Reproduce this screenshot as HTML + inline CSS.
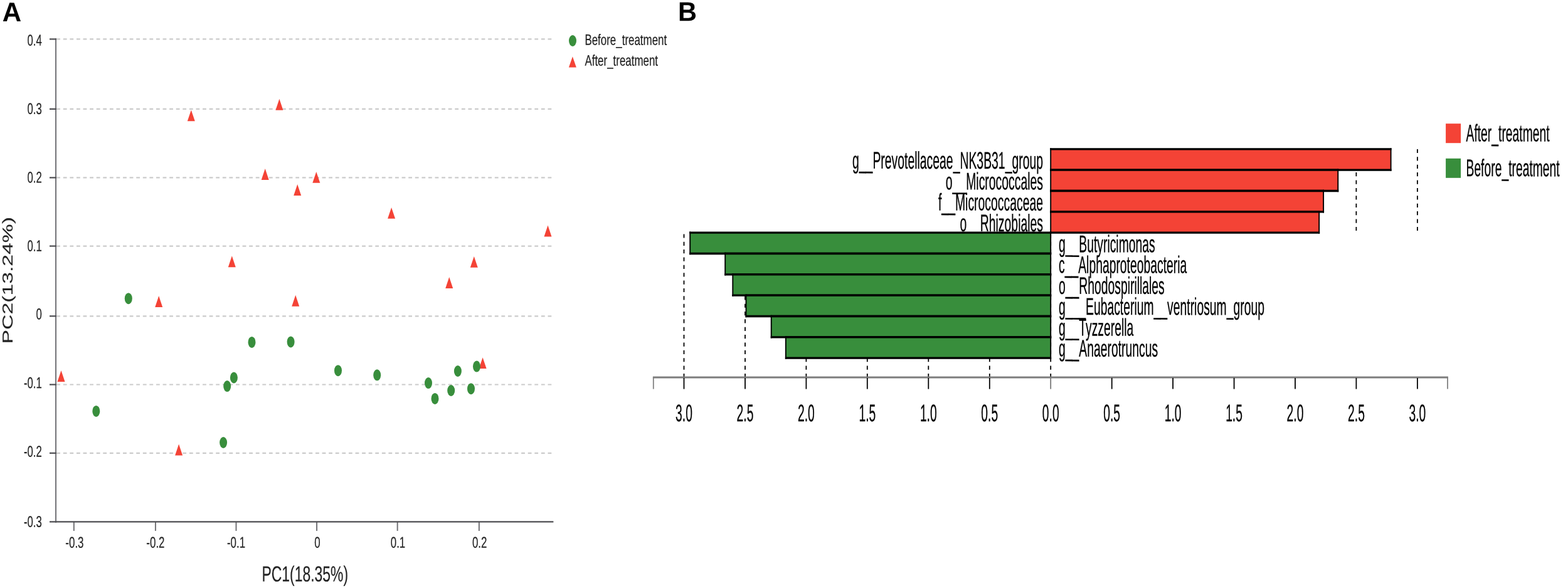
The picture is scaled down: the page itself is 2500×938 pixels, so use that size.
<!DOCTYPE html>
<html lang="en">
<head>
<meta charset="utf-8">
<title>Figure: PCoA and LEfSe LDA scores</title>
<style>
html,body{margin:0;padding:0;background:#fff;}
body{width:2500px;height:938px;overflow:hidden;}
svg{display:block;}
svg text{font-family:"Liberation Sans",Arial,Helvetica,sans-serif;text-rendering:geometricPrecision;}
</style>
</head>
<body>
<svg width="2500" height="938" viewBox="0 0 2500 938">
<rect x="0" y="0" width="2500" height="938" fill="#ffffff"/>
<g id="panelA">
<line x1="90.2" y1="62.4" x2="881" y2="62.4" stroke="#cbcbcb" stroke-width="2.2" stroke-dasharray="5.8 4.785"/>
<line x1="90.2" y1="173.9" x2="881" y2="173.9" stroke="#cbcbcb" stroke-width="2.2" stroke-dasharray="5.8 4.785"/>
<line x1="90.2" y1="283.4" x2="881" y2="283.4" stroke="#cbcbcb" stroke-width="2.2" stroke-dasharray="5.8 4.785"/>
<line x1="90.2" y1="392.55" x2="881" y2="392.55" stroke="#cbcbcb" stroke-width="2.2" stroke-dasharray="5.8 4.785"/>
<line x1="90.2" y1="504.3" x2="881" y2="504.3" stroke="#cbcbcb" stroke-width="2.2" stroke-dasharray="5.8 4.785"/>
<line x1="90.2" y1="613.5" x2="881" y2="613.5" stroke="#cbcbcb" stroke-width="2.2" stroke-dasharray="5.8 4.785"/>
<line x1="90.2" y1="722.8" x2="881" y2="722.8" stroke="#cbcbcb" stroke-width="2.2" stroke-dasharray="5.8 4.785"/>
<line x1="89.05" y1="61.3" x2="89.05" y2="833.7" stroke="#727276" stroke-width="2"/>
<line x1="117.83" y1="832.5" x2="117.83" y2="846.9" stroke="#727276" stroke-width="2"/>
<line x1="247.93" y1="832.5" x2="247.93" y2="846.9" stroke="#727276" stroke-width="2"/>
<line x1="376.49" y1="832.5" x2="376.49" y2="846.9" stroke="#727276" stroke-width="2"/>
<line x1="505.06" y1="832.5" x2="505.06" y2="846.9" stroke="#727276" stroke-width="2"/>
<line x1="633.68" y1="832.5" x2="633.68" y2="846.9" stroke="#727276" stroke-width="2"/>
<line x1="763.86" y1="832.5" x2="763.86" y2="846.9" stroke="#727276" stroke-width="2"/>
<line x1="79" y1="62.4" x2="89.85" y2="62.4" stroke="#4c4c50" stroke-width="2.2"/>
<line x1="79" y1="173.9" x2="89.85" y2="173.9" stroke="#4c4c50" stroke-width="2.2"/>
<line x1="79" y1="283.4" x2="89.85" y2="283.4" stroke="#4c4c50" stroke-width="2.2"/>
<line x1="79" y1="392.55" x2="89.85" y2="392.55" stroke="#4c4c50" stroke-width="2.2"/>
<line x1="79" y1="504.3" x2="89.85" y2="504.3" stroke="#4c4c50" stroke-width="2.2"/>
<line x1="79" y1="613.5" x2="89.85" y2="613.5" stroke="#4c4c50" stroke-width="2.2"/>
<line x1="79" y1="722.8" x2="89.85" y2="722.8" stroke="#4c4c50" stroke-width="2.2"/>
<line x1="79" y1="832.4" x2="882.4" y2="832.4" stroke="#4c4c50" stroke-width="2.4"/>
<text transform="matrix(0.6650 0.0006 0 1 66.80 72.66)" font-size="25.2" text-anchor="end" fill="#222222" font-weight="normal" stroke="#222222" stroke-width="0.2" vector-effect="non-scaling-stroke" stroke-linejoin="round">0.4</text>
<text transform="matrix(0.6650 0.0006 0 1 66.80 182.11)" font-size="25.2" text-anchor="end" fill="#222222" font-weight="normal" stroke="#222222" stroke-width="0.2" vector-effect="non-scaling-stroke" stroke-linejoin="round">0.3</text>
<text transform="matrix(0.6650 0.0006 0 1 66.80 291.46)" font-size="25.2" text-anchor="end" fill="#222222" font-weight="normal" stroke="#222222" stroke-width="0.2" vector-effect="non-scaling-stroke" stroke-linejoin="round">0.2</text>
<text transform="matrix(0.6650 0.0006 0 1 66.80 400.66)" font-size="25.2" text-anchor="end" fill="#222222" font-weight="normal" stroke="#222222" stroke-width="0.2" vector-effect="non-scaling-stroke" stroke-linejoin="round">0.1</text>
<text transform="matrix(0.6650 0.0006 0 1 66.80 509.55)" font-size="25.2" text-anchor="end" fill="#222222" font-weight="normal" stroke="#222222" stroke-width="0.2" vector-effect="non-scaling-stroke" stroke-linejoin="round">0</text>
<text transform="matrix(0.6650 0.0006 0 1 66.80 619.27)" font-size="25.2" text-anchor="end" fill="#222222" font-weight="normal" stroke="#222222" stroke-width="0.2" vector-effect="non-scaling-stroke" stroke-linejoin="round">-0.1</text>
<text transform="matrix(0.6650 0.0006 0 1 66.80 728.72)" font-size="25.2" text-anchor="end" fill="#222222" font-weight="normal" stroke="#222222" stroke-width="0.2" vector-effect="non-scaling-stroke" stroke-linejoin="round">-0.2</text>
<text transform="matrix(0.6650 0.0006 0 1 66.80 840.87)" font-size="25.2" text-anchor="end" fill="#222222" font-weight="normal" stroke="#222222" stroke-width="0.2" vector-effect="non-scaling-stroke" stroke-linejoin="round">-0.3</text>
<text transform="matrix(0.6800 0.0006 0 1 118.93 873.75)" font-size="24.9" text-anchor="middle" fill="#222222" font-weight="normal" stroke="#222222" stroke-width="0.2" vector-effect="non-scaling-stroke" stroke-linejoin="round">-0.3</text>
<text transform="matrix(0.6800 0.0006 0 1 247.93 873.75)" font-size="24.9" text-anchor="middle" fill="#222222" font-weight="normal" stroke="#222222" stroke-width="0.2" vector-effect="non-scaling-stroke" stroke-linejoin="round">-0.2</text>
<text transform="matrix(0.6800 0.0006 0 1 376.49 873.75)" font-size="24.9" text-anchor="middle" fill="#222222" font-weight="normal" stroke="#222222" stroke-width="0.2" vector-effect="non-scaling-stroke" stroke-linejoin="round">-0.1</text>
<text transform="matrix(0.6800 0.0006 0 1 505.86 873.75)" font-size="24.9" text-anchor="middle" fill="#222222" font-weight="normal" stroke="#222222" stroke-width="0.2" vector-effect="non-scaling-stroke" stroke-linejoin="round">0</text>
<text transform="matrix(0.6800 0.0006 0 1 634.48 873.75)" font-size="24.9" text-anchor="middle" fill="#222222" font-weight="normal" stroke="#222222" stroke-width="0.2" vector-effect="non-scaling-stroke" stroke-linejoin="round">0.1</text>
<text transform="matrix(0.6800 0.0006 0 1 764.66 873.75)" font-size="24.9" text-anchor="middle" fill="#222222" font-weight="normal" stroke="#222222" stroke-width="0.2" vector-effect="non-scaling-stroke" stroke-linejoin="round">0.2</text>
<text transform="matrix(0.6570 0.0006 0 1 417.50 927.44)" font-size="34.9" text-anchor="start" fill="#222222" font-weight="normal" stroke="#222222" stroke-width="0.2" vector-effect="non-scaling-stroke" stroke-linejoin="round">PC1(18.35%)</text>
<text transform="translate(20.1 548.4) rotate(-90) scale(1.466 1)" font-size="23.0" stroke="#222222" stroke-width="0.12" fill="#222222">PC2(13.24%)</text>
<path d="M304.8 175.4 L310.8 193.3 L298.8 193.3 Z" fill="#f44336"/>
<path d="M445.4 157.8 L451.4 175.7 L439.4 175.7 Z" fill="#f44336"/>
<path d="M422.7 269.1 L428.7 287.0 L416.7 287.0 Z" fill="#f44336"/>
<path d="M504.3 273.9 L510.3 291.8 L498.3 291.8 Z" fill="#f44336"/>
<path d="M474.2 294.0 L480.2 311.9 L468.2 311.9 Z" fill="#f44336"/>
<path d="M369.8 408.3 L375.8 426.2 L363.8 426.2 Z" fill="#f44336"/>
<path d="M253.2 472.1 L259.2 490.0 L247.2 490.0 Z" fill="#f44336"/>
<path d="M471.2 470.8 L477.2 488.7 L465.2 488.7 Z" fill="#f44336"/>
<path d="M97.5 591.1 L103.5 609.0 L91.5 609.0 Z" fill="#f44336"/>
<path d="M624.1 330.9 L630.1 348.8 L618.1 348.8 Z" fill="#f44336"/>
<path d="M873.5 359.6 L879.5 377.5 L867.5 377.5 Z" fill="#f44336"/>
<path d="M755.8 408.9 L761.8 426.8 L749.8 426.8 Z" fill="#f44336"/>
<path d="M716.2 442.1 L722.2 460.0 L710.2 460.0 Z" fill="#f44336"/>
<path d="M769.6 570.2 L775.6 588.1 L763.6 588.1 Z" fill="#f44336"/>
<path d="M285.1 708.6 L291.1 726.5 L279.1 726.5 Z" fill="#f44336"/>
<ellipse cx="204.8" cy="476.2" rx="6.0" ry="9.0" fill="#388e3c"/>
<ellipse cx="401.5" cy="545.9" rx="6.0" ry="9.0" fill="#388e3c"/>
<ellipse cx="463.6" cy="545.4" rx="6.0" ry="9.0" fill="#388e3c"/>
<ellipse cx="372.9" cy="602.5" rx="6.0" ry="9.0" fill="#388e3c"/>
<ellipse cx="362.2" cy="616.1" rx="6.0" ry="9.0" fill="#388e3c"/>
<ellipse cx="153.3" cy="655.9" rx="6.0" ry="9.0" fill="#388e3c"/>
<ellipse cx="539.0" cy="591.2" rx="6.0" ry="9.0" fill="#388e3c"/>
<ellipse cx="601.2" cy="598.3" rx="6.0" ry="9.0" fill="#388e3c"/>
<ellipse cx="683.0" cy="611.1" rx="6.0" ry="9.0" fill="#388e3c"/>
<ellipse cx="693.5" cy="635.9" rx="6.0" ry="9.0" fill="#388e3c"/>
<ellipse cx="719.2" cy="623.0" rx="6.0" ry="9.0" fill="#388e3c"/>
<ellipse cx="729.9" cy="592.0" rx="6.0" ry="9.0" fill="#388e3c"/>
<ellipse cx="751.0" cy="620.2" rx="6.0" ry="9.0" fill="#388e3c"/>
<ellipse cx="760.0" cy="584.6" rx="6.0" ry="9.0" fill="#388e3c"/>
<ellipse cx="356.1" cy="706.0" rx="6.0" ry="9.0" fill="#388e3c"/>
<ellipse cx="913.0" cy="65.0" rx="6.0" ry="9.0" fill="#388e3c"/>
<path d="M912.9 90.2 L918.9 107.5 L906.9 107.5 Z" fill="#f44336"/>
<text transform="matrix(0.6940 0.0006 0 1 932.40 71.74)" font-size="24.4" text-anchor="start" fill="#222222" font-weight="normal" stroke="#222222" stroke-width="0.2" vector-effect="non-scaling-stroke" stroke-linejoin="round">Before_treatment</text>
<text transform="matrix(0.6940 0.0006 0 1 932.40 104.75)" font-size="24.4" text-anchor="start" fill="#222222" font-weight="normal" stroke="#222222" stroke-width="0.2" vector-effect="non-scaling-stroke" stroke-linejoin="round">After_treatment</text>
<text transform="matrix(0.9770 0.0006 0 1 3.75 33.99)" font-size="43.1" text-anchor="start" fill="#000" font-weight="bold">A</text>
</g>
<g id="panelB">
<text transform="matrix(0.9660 0.0006 0 1 1081.05 33.29)" font-size="43.0" text-anchor="start" fill="#000" font-weight="bold">B</text>
<line x1="1675.2" y1="373.4" x2="1675.2" y2="601.9" stroke="#000" stroke-width="1.8" stroke-dasharray="6.2 6.16"/>
<line x1="1577.8" y1="373.4" x2="1577.8" y2="601.9" stroke="#000" stroke-width="1.8" stroke-dasharray="6.2 6.16"/>
<line x1="1480.3" y1="373.4" x2="1480.3" y2="601.9" stroke="#000" stroke-width="1.8" stroke-dasharray="6.2 6.16"/>
<line x1="1382.8" y1="373.4" x2="1382.8" y2="601.9" stroke="#000" stroke-width="1.8" stroke-dasharray="6.2 6.16"/>
<line x1="1285.4" y1="373.4" x2="1285.4" y2="601.9" stroke="#000" stroke-width="1.8" stroke-dasharray="6.2 6.16"/>
<line x1="1188.0" y1="373.4" x2="1188.0" y2="601.9" stroke="#000" stroke-width="1.8" stroke-dasharray="6.2 6.16"/>
<line x1="1090.5" y1="373.4" x2="1090.5" y2="601.9" stroke="#000" stroke-width="1.8" stroke-dasharray="6.2 6.16"/>
<line x1="1772.7" y1="237.9" x2="1772.7" y2="371.0" stroke="#000" stroke-width="1.8" stroke-dasharray="6.2 6.2"/>
<line x1="1870.1" y1="237.9" x2="1870.1" y2="371.0" stroke="#000" stroke-width="1.8" stroke-dasharray="6.2 6.2"/>
<line x1="1967.6" y1="237.9" x2="1967.6" y2="371.0" stroke="#000" stroke-width="1.8" stroke-dasharray="6.2 6.2"/>
<line x1="2065.0" y1="237.9" x2="2065.0" y2="371.0" stroke="#000" stroke-width="1.8" stroke-dasharray="6.2 6.2"/>
<line x1="2162.4" y1="237.9" x2="2162.4" y2="371.0" stroke="#000" stroke-width="1.8" stroke-dasharray="6.2 6.2"/>
<line x1="2259.9" y1="237.9" x2="2259.9" y2="371.0" stroke="#000" stroke-width="1.8" stroke-dasharray="6.2 6.2"/>
<path d="M1041.8 620.6 V601.9" fill="none" stroke="#808080" stroke-width="1.8"/>
<path d="M2308 620.6 V601.9" fill="none" stroke="#808080" stroke-width="1.8"/>
<path d="M1040.9 601.9 H2308.9" fill="none" stroke="#7d7d7d" stroke-width="3.0"/>
<line x1="1090.5" y1="602.9" x2="1090.5" y2="620.6" stroke="#000" stroke-width="1.8"/>
<text transform="matrix(0.5050 0.0006 0 1 1090.50 672.00)" font-size="38.2" text-anchor="middle" fill="#000" font-weight="normal" stroke="#000" stroke-width="0.3" vector-effect="non-scaling-stroke" stroke-linejoin="round">3.0</text>
<line x1="1188.0" y1="602.9" x2="1188.0" y2="620.6" stroke="#000" stroke-width="1.8"/>
<text transform="matrix(0.5050 0.0006 0 1 1187.95 672.00)" font-size="38.2" text-anchor="middle" fill="#000" font-weight="normal" stroke="#000" stroke-width="0.3" vector-effect="non-scaling-stroke" stroke-linejoin="round">2.5</text>
<line x1="1285.4" y1="602.9" x2="1285.4" y2="620.6" stroke="#000" stroke-width="1.8"/>
<text transform="matrix(0.5050 0.0006 0 1 1285.40 672.00)" font-size="38.2" text-anchor="middle" fill="#000" font-weight="normal" stroke="#000" stroke-width="0.3" vector-effect="non-scaling-stroke" stroke-linejoin="round">2.0</text>
<line x1="1382.8" y1="602.9" x2="1382.8" y2="620.6" stroke="#000" stroke-width="1.8"/>
<text transform="matrix(0.5050 0.0006 0 1 1382.85 672.00)" font-size="38.2" text-anchor="middle" fill="#000" font-weight="normal" stroke="#000" stroke-width="0.3" vector-effect="non-scaling-stroke" stroke-linejoin="round">1.5</text>
<line x1="1480.3" y1="602.9" x2="1480.3" y2="620.6" stroke="#000" stroke-width="1.8"/>
<text transform="matrix(0.5050 0.0006 0 1 1480.30 672.00)" font-size="38.2" text-anchor="middle" fill="#000" font-weight="normal" stroke="#000" stroke-width="0.3" vector-effect="non-scaling-stroke" stroke-linejoin="round">1.0</text>
<line x1="1577.8" y1="602.9" x2="1577.8" y2="620.6" stroke="#000" stroke-width="1.8"/>
<text transform="matrix(0.5050 0.0006 0 1 1577.75 672.00)" font-size="38.2" text-anchor="middle" fill="#000" font-weight="normal" stroke="#000" stroke-width="0.3" vector-effect="non-scaling-stroke" stroke-linejoin="round">0.5</text>
<line x1="1675.2" y1="602.9" x2="1675.2" y2="620.6" stroke="#777" stroke-width="1.8"/>
<text transform="matrix(0.5050 0.0006 0 1 1675.20 672.00)" font-size="38.2" text-anchor="middle" fill="#000" font-weight="normal" stroke="#000" stroke-width="0.3" vector-effect="non-scaling-stroke" stroke-linejoin="round">0.0</text>
<line x1="1772.7" y1="602.9" x2="1772.7" y2="620.6" stroke="#000" stroke-width="1.8"/>
<text transform="matrix(0.5050 0.0006 0 1 1772.65 672.00)" font-size="38.2" text-anchor="middle" fill="#000" font-weight="normal" stroke="#000" stroke-width="0.3" vector-effect="non-scaling-stroke" stroke-linejoin="round">0.5</text>
<line x1="1870.1" y1="602.9" x2="1870.1" y2="620.6" stroke="#000" stroke-width="1.8"/>
<text transform="matrix(0.5050 0.0006 0 1 1870.10 672.00)" font-size="38.2" text-anchor="middle" fill="#000" font-weight="normal" stroke="#000" stroke-width="0.3" vector-effect="non-scaling-stroke" stroke-linejoin="round">1.0</text>
<line x1="1967.6" y1="602.9" x2="1967.6" y2="620.6" stroke="#000" stroke-width="1.8"/>
<text transform="matrix(0.5050 0.0006 0 1 1967.55 672.00)" font-size="38.2" text-anchor="middle" fill="#000" font-weight="normal" stroke="#000" stroke-width="0.3" vector-effect="non-scaling-stroke" stroke-linejoin="round">1.5</text>
<line x1="2065.0" y1="602.9" x2="2065.0" y2="620.6" stroke="#000" stroke-width="1.8"/>
<text transform="matrix(0.5050 0.0006 0 1 2065.00 672.00)" font-size="38.2" text-anchor="middle" fill="#000" font-weight="normal" stroke="#000" stroke-width="0.3" vector-effect="non-scaling-stroke" stroke-linejoin="round">2.0</text>
<line x1="2162.4" y1="602.9" x2="2162.4" y2="620.6" stroke="#000" stroke-width="1.8"/>
<text transform="matrix(0.5050 0.0006 0 1 2162.45 672.00)" font-size="38.2" text-anchor="middle" fill="#000" font-weight="normal" stroke="#000" stroke-width="0.3" vector-effect="non-scaling-stroke" stroke-linejoin="round">2.5</text>
<line x1="2259.9" y1="602.9" x2="2259.9" y2="620.6" stroke="#000" stroke-width="1.8"/>
<text transform="matrix(0.5050 0.0006 0 1 2259.90 672.00)" font-size="38.2" text-anchor="middle" fill="#000" font-weight="normal" stroke="#000" stroke-width="0.3" vector-effect="non-scaling-stroke" stroke-linejoin="round">3.0</text>
<text transform="matrix(0.5062 0.0006 0 1 1663.00 269.17)" font-size="38.3" text-anchor="end" fill="#000" font-weight="normal" stroke="#000" stroke-width="0.3" vector-effect="non-scaling-stroke" stroke-linejoin="round">g__Prevotellaceae_NK3B31_group</text>
<text transform="matrix(0.5062 0.0006 0 1 1663.00 302.39)" font-size="38.3" text-anchor="end" fill="#000" font-weight="normal" stroke="#000" stroke-width="0.3" vector-effect="non-scaling-stroke" stroke-linejoin="round">o__Micrococcales</text>
<text transform="matrix(0.5062 0.0006 0 1 1663.00 335.70)" font-size="38.3" text-anchor="end" fill="#000" font-weight="normal" stroke="#000" stroke-width="0.3" vector-effect="non-scaling-stroke" stroke-linejoin="round">f__Micrococcaceae</text>
<text transform="matrix(0.5062 0.0006 0 1 1663.00 368.98)" font-size="38.3" text-anchor="end" fill="#000" font-weight="normal" stroke="#000" stroke-width="0.3" vector-effect="non-scaling-stroke" stroke-linejoin="round">o__Rhizobiales</text>
<text transform="matrix(0.5050 0.0006 0 1 1688.00 402.11)" font-size="38.3" text-anchor="start" fill="#000" font-weight="normal" stroke="#000" stroke-width="0.3" vector-effect="non-scaling-stroke" stroke-linejoin="round">g__Butyricimonas</text>
<text transform="matrix(0.5050 0.0006 0 1 1688.00 435.37)" font-size="38.3" text-anchor="start" fill="#000" font-weight="normal" stroke="#000" stroke-width="0.3" vector-effect="non-scaling-stroke" stroke-linejoin="round">c__Alphaproteobacteria</text>
<text transform="matrix(0.5050 0.0006 0 1 1688.00 468.69)" font-size="38.3" text-anchor="start" fill="#000" font-weight="normal" stroke="#000" stroke-width="0.3" vector-effect="non-scaling-stroke" stroke-linejoin="round">o__Rhodospirillales</text>
<text transform="matrix(0.5050 0.0006 0 1 1688.00 501.91)" font-size="38.3" text-anchor="start" fill="#000" font-weight="normal" stroke="#000" stroke-width="0.3" vector-effect="non-scaling-stroke" stroke-linejoin="round">g___Eubacterium__ventriosum_group</text>
<text transform="matrix(0.5050 0.0006 0 1 1688.00 535.33)" font-size="38.3" text-anchor="start" fill="#000" font-weight="normal" stroke="#000" stroke-width="0.3" vector-effect="non-scaling-stroke" stroke-linejoin="round">g__Tyzzerella</text>
<text transform="matrix(0.5050 0.0006 0 1 1688.00 568.61)" font-size="38.3" text-anchor="start" fill="#000" font-weight="normal" stroke="#000" stroke-width="0.3" vector-effect="non-scaling-stroke" stroke-linejoin="round">g__Anaerotruncus</text>
<rect x="1675.20" y="237.85" width="542.40" height="33.33" fill="#f44336"/><path d="M1674.25 237.85 H2218.55 M1674.25 271.18 H2218.55" stroke="#000" stroke-width="3.3" fill="none"/><path d="M1675.20 236.20 V272.83 M2217.60 236.20 V272.83" stroke="#000" stroke-width="1.9" fill="none"/>
<rect x="1675.20" y="271.18" width="458.10" height="33.33" fill="#f44336"/><path d="M1674.25 271.18 H2134.25 M1674.25 304.51 H2134.25" stroke="#000" stroke-width="3.3" fill="none"/><path d="M1675.20 269.53 V306.16 M2133.30 269.53 V306.16" stroke="#000" stroke-width="1.9" fill="none"/>
<rect x="1675.20" y="304.51" width="434.90" height="33.33" fill="#f44336"/><path d="M1674.25 304.51 H2111.05 M1674.25 337.84 H2111.05" stroke="#000" stroke-width="3.3" fill="none"/><path d="M1675.20 302.86 V339.49 M2110.10 302.86 V339.49" stroke="#000" stroke-width="1.9" fill="none"/>
<rect x="1675.20" y="337.84" width="428.00" height="33.33" fill="#f44336"/><path d="M1674.25 337.84 H2104.15 M1674.25 371.17 H2104.15" stroke="#000" stroke-width="3.3" fill="none"/><path d="M1675.20 336.19 V372.82 M2103.20 336.19 V372.82" stroke="#000" stroke-width="1.9" fill="none"/>
<rect x="1100.20" y="371.17" width="575.00" height="33.33" fill="#388e3c"/><path d="M1099.25 371.17 H1676.15 M1099.25 404.50 H1676.15" stroke="#000" stroke-width="3.3" fill="none"/><path d="M1100.20 369.52 V406.15 M1675.20 369.52 V406.15" stroke="#000" stroke-width="1.9" fill="none"/>
<rect x="1156.20" y="404.50" width="519.00" height="33.33" fill="#388e3c"/><path d="M1155.25 404.50 H1676.15 M1155.25 437.83 H1676.15" stroke="#000" stroke-width="3.3" fill="none"/><path d="M1156.20 402.85 V439.48 M1675.20 402.85 V439.48" stroke="#000" stroke-width="1.9" fill="none"/>
<rect x="1168.30" y="437.83" width="506.90" height="33.33" fill="#388e3c"/><path d="M1167.35 437.83 H1676.15 M1167.35 471.16 H1676.15" stroke="#000" stroke-width="3.3" fill="none"/><path d="M1168.30 436.18 V472.81 M1675.20 436.18 V472.81" stroke="#000" stroke-width="1.9" fill="none"/>
<rect x="1189.50" y="471.16" width="485.70" height="33.33" fill="#388e3c"/><path d="M1188.55 471.16 H1676.15 M1188.55 504.49 H1676.15" stroke="#000" stroke-width="3.3" fill="none"/><path d="M1189.50 469.51 V506.14 M1675.20 469.51 V506.14" stroke="#000" stroke-width="1.9" fill="none"/>
<rect x="1229.70" y="504.49" width="445.50" height="33.33" fill="#388e3c"/><path d="M1228.75 504.49 H1676.15 M1228.75 537.82 H1676.15" stroke="#000" stroke-width="3.3" fill="none"/><path d="M1229.70 502.84 V539.47 M1675.20 502.84 V539.47" stroke="#000" stroke-width="1.9" fill="none"/>
<rect x="1252.80" y="537.82" width="422.40" height="33.33" fill="#388e3c"/><path d="M1251.85 537.82 H1676.15 M1251.85 571.15 H1676.15" stroke="#000" stroke-width="3.3" fill="none"/><path d="M1252.80 536.17 V572.80 M1675.20 536.17 V572.80" stroke="#000" stroke-width="1.9" fill="none"/>
<rect x="2305.1" y="197.2" width="24" height="31" fill="#f44336"/>
<rect x="2305.1" y="252.8" width="24" height="31" fill="#388e3c"/>
<text transform="matrix(0.5030 0.0006 0 1 2337.50 225.46)" font-size="38.4" text-anchor="start" fill="#000" font-weight="normal" stroke="#000" stroke-width="0.3" vector-effect="non-scaling-stroke" stroke-linejoin="round">After_treatment</text>
<text transform="matrix(0.5030 0.0006 0 1 2337.50 281.01)" font-size="38.4" text-anchor="start" fill="#000" font-weight="normal" stroke="#000" stroke-width="0.3" vector-effect="non-scaling-stroke" stroke-linejoin="round">Before_treatment</text>
</g>
</svg>
</body>
</html>
